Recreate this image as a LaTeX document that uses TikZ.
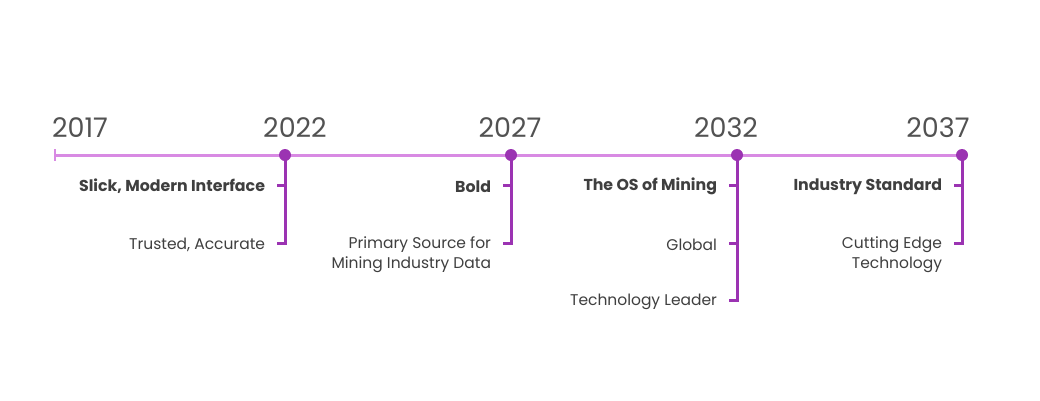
\documentclass[tikz,border=0pt]{standalone}
\usepackage{fontspec}
\setmainfont{Poppins}
\usetikzlibrary{calc,positioning}
\definecolor{axispurple}{HTML}{D88AE3}
\definecolor{stempurple}{HTML}{9B33B2}
\definecolor{inkgray}{HTML}{3F3F3F}
\tikzset{
	timeline/.style={x=1pt,y=-1pt,
		every node/.style={inner sep=0pt, outer sep=0pt}},
	axis line/.style={draw=axispurple, line width=3pt},
	axis tick/.style={draw=axispurple, line width=2pt},
	stem line/.style={draw=stempurple, line width=3pt},
	year/.style={font=\fontsize{27}{27}\selectfont, text=inkgray!90, anchor=base},
	item/.style={font=\fontsize{15.5}{20}\selectfont, text=inkgray, align=right, anchor=east, yshift=-1.5pt},
	key item/.style={item, font=\bfseries\fontsize{15.8}{20}\selectfont},
	dot/.style={circle, fill=stempurple, minimum size=12pt}
}
\begin{document}
\begin{tikzpicture}[timeline]
	\fill[white] (0,0) rectangle (1040,400);
	\useasboundingbox (0,0) rectangle (1040,400);
	% axis
	\coordinate (t0) at (55,155);
	\foreach \n/\xx in {1/285,2/511,3/737,4/962}
		\coordinate (t\n) at (\xx,155);
	\draw[axis line] (t0) -- (t4);
	\draw[axis tick] ($(t0)+(0,-6)$) -- ($(t0)+(0,6)$);
	% years
	\node[year] (y0) at (80,137) {2017};
	\node[year] (y1) at (295,137) {2022};
	\node[year] (y2) at (510,137) {2027};
	\node[year] (y3) at (726,137) {2032};
	\node[year] (y4) at (938,137) {2037};
	% tick ends
	\foreach \n in {1,...,4} {
		\coordinate (t\n a) at ($(t\n)+(-8,30)$);
		\coordinate (t\n b) at ($(t\n)+(-8,88)$);
	}
	\coordinate (t3c) at ($(t3)+(-8,145)$);
	% stems
	\foreach \n in {1,2,4} {
		\draw[stem line] (t\n) |- (t\n b);
		\draw[stem line] (t\n a) -- (t\n a -| t\n);
	}
	\draw[stem line] (t3) |- (t3c);
	\draw[stem line] (t3a) -- (t3a -| t3);
	\draw[stem line] (t3b) -- (t3b -| t3);
	\foreach \n in {1,...,4}
		\node[dot] (d\n) at (t\n) {};
	% labels
	\node[key item, left=12pt of t1a] (slick) {Slick, Modern Interface};
	\node[item, left=12pt of t1b] (trusted) {Trusted, Accurate};
	\node[key item, left=12pt of t2a] (bold) {Bold};
	\node[item, left=12pt of t2b, yshift=-10pt] (source) {Primary Source for\\Mining Industry Data};
	\node[key item, left=12pt of t3a] (osmining) {The OS of Mining};
	\node[item, left=12pt of t3b] (global) {Global};
	\node[item, left=12pt of t3c] (leader) {Technology Leader};
	\node[key item, left=12pt of t4a] (standard) {Industry Standard};
	\node[item, left=12pt of t4b, yshift=-10pt] (cutting) {Cutting Edge\\Technology};
\end{tikzpicture}
\end{document}
